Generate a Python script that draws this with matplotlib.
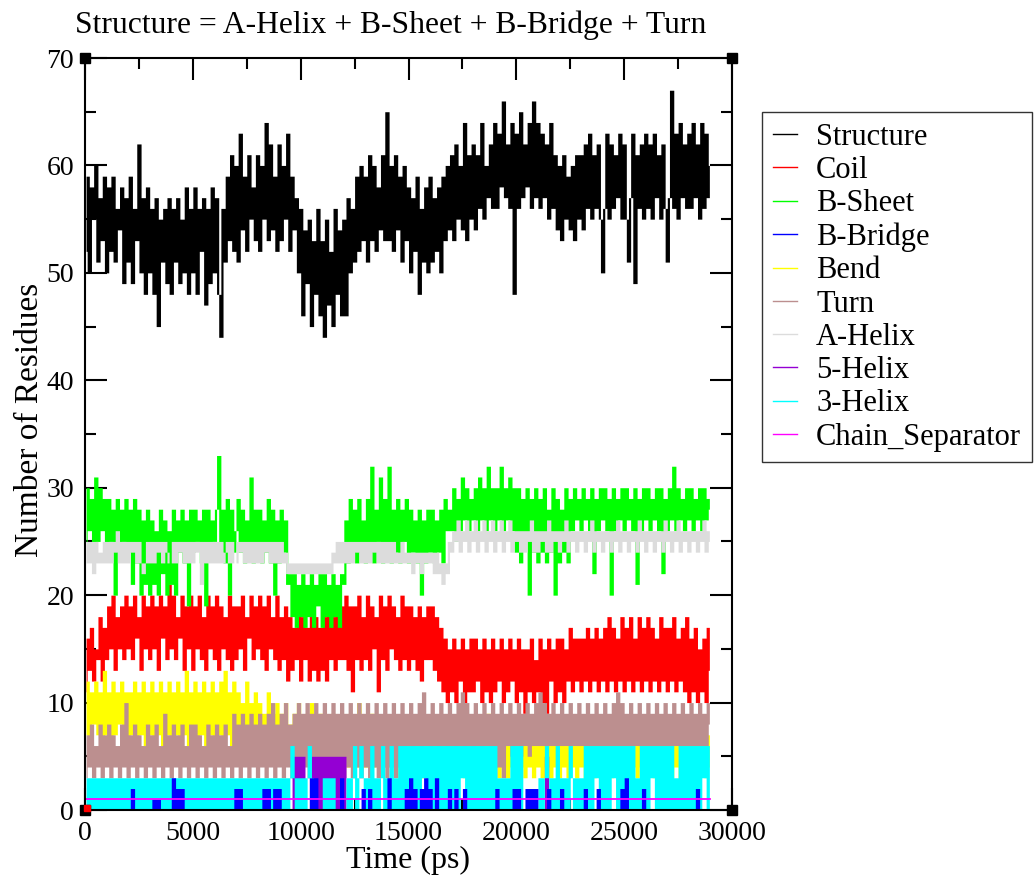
import numpy as np
import matplotlib
matplotlib.use('Agg')
import matplotlib.pyplot as plt
from matplotlib.lines import Line2D
from matplotlib.ticker import MultipleLocator
from matplotlib.transforms import offset_copy

# sample times (ps): one reading every 100 ps, 0 .. 29000
time = np.arange(0, 29001, 100)

# one row = 1000 ps
structure = [52, 59, 50, 58, 55, 60, 51, 57, 53, 59,
             50, 58, 52, 59, 51, 56, 54, 58, 49, 57,
             51, 59, 49, 56, 53, 62, 50, 57, 48, 58,
             50, 56, 48, 57, 45, 55, 51, 56, 49, 57,
             48, 56, 51, 57, 49, 55, 50, 58, 48, 56,
             50, 58, 48, 56, 52, 57, 47, 56, 49, 58,
             50, 57, 48, 44, 56, 51, 59, 53, 61, 52,
             60, 51, 63, 54, 59, 52, 61, 55, 58, 53,
             61, 52, 60, 55, 64, 53, 62, 54, 59, 52,
             62, 53, 60, 55, 63, 52, 59, 54, 57, 50,
             56, 46, 54, 49, 55, 45, 53, 48, 56, 46,
             53, 44, 55, 47, 52, 45, 56, 48, 54, 46,
             55, 46, 57, 50, 56, 51, 59, 52, 60, 53,
             59, 51, 61, 53, 60, 52, 58, 54, 61, 53,
             65, 53, 60, 52, 61, 54, 59, 51, 60, 53,
             58, 50, 57, 52, 59, 48, 56, 51, 58, 50,
             59, 51, 57, 52, 58, 50, 59, 53, 60, 54,
             61, 53, 62, 55, 60, 54, 64, 53, 61, 55,
             62, 54, 61, 56, 64, 55, 60, 57, 62, 56,
             64, 56, 63, 58, 66, 57, 62, 56, 64, 48,
             63, 56, 65, 57, 62, 58, 64, 56, 66, 57,
             64, 56, 63, 57, 62, 55, 64, 56, 61, 54,
             60, 53, 61, 55, 59, 54, 60, 53, 61, 55,
             61, 54, 62, 56, 63, 55, 61, 56, 62, 55,
             50, 56, 63, 55, 62, 56, 61, 57, 63, 55,
             62, 55, 51, 57, 63, 49, 61, 56, 62, 55,
             63, 56, 62, 55, 63, 57, 61, 55, 62, 56,
             51, 57, 67, 56, 63, 55, 64, 57, 62, 56,
             63, 56, 64, 57, 62, 55, 64, 56, 63, 57,
             60]

coil = [11, 16, 13, 17, 12, 15, 14, 18, 12, 17,
        14, 19, 15, 20, 13, 18, 15, 19, 14, 20,
        15, 19, 14, 20, 16, 18, 13, 20, 15, 19,
        14, 20, 15, 19, 13, 20, 16, 19, 14, 21,
        15, 20, 14, 18, 16, 20, 13, 19, 15, 20,
        13, 19, 15, 20, 14, 18, 13, 20, 15, 19,
        14, 20, 13, 19, 15, 18, 14, 20, 13, 19,
        14, 19, 15, 20, 13, 18, 16, 20, 14, 19,
        15, 20, 14, 19, 13, 20, 15, 18, 14, 20,
        13, 18, 14, 19, 12, 18, 13, 17, 14, 19,
        12, 18, 14, 17, 12, 19, 13, 18, 12, 17,
        13, 18, 12, 19, 14, 18, 13, 20, 14, 19,
        14, 20, 13, 19, 11, 19, 14, 20, 13, 18,
        14, 20, 13, 19, 15, 18, 11, 20, 14, 19,
        13, 20, 15, 19, 14, 18, 13, 20, 14, 19,
        13, 19, 14, 18, 13, 19, 12, 18, 14, 19,
        14, 19, 13, 18, 12, 17, 11, 16, 10, 15,
        11, 16, 10, 15, 12, 16, 10, 15, 11, 16,
        11, 16, 12, 15, 10, 16, 11, 15, 10, 16,
        11, 15, 12, 16, 10, 15, 11, 16, 12, 15,
        10, 16, 11, 15, 9, 15, 11, 16, 10, 14,
        11, 16, 10, 15, 9, 16, 12, 15, 10, 16,
        11, 16, 10, 15, 12, 17, 11, 16, 12, 16,
        11, 16, 12, 17, 11, 16, 12, 17, 11, 16,
        12, 17, 11, 18, 12, 17, 11, 16, 12, 18,
        11, 17, 12, 18, 11, 16, 12, 18, 11, 17,
        12, 18, 11, 17, 12, 16, 11, 18, 12, 17,
        11, 17, 12, 18, 11, 16, 12, 17, 11, 18,
        10, 16, 11, 17, 10, 15, 11, 16, 10, 17,
        13]

b_sheet = [25, 30, 26, 29, 24, 31, 25, 30, 26, 29,
           24, 29, 25, 28, 20, 29, 24, 28, 25, 29,
           24, 28, 21, 29, 23, 28, 20, 27, 21, 28,
           20, 27, 21, 26, 20, 28, 22, 27, 20, 26,
           21, 28, 20, 27, 24, 28, 23, 27, 19, 28,
           24, 28, 25, 27, 23, 28, 19, 28, 24, 27,
           25, 28, 33, 24, 28, 23, 29, 20, 28, 24,
           26, 29, 24, 28, 23, 27, 24, 31, 23, 28,
           24, 28, 23, 27, 24, 29, 23, 28, 20, 27,
           23, 28, 24, 27, 21, 22, 18, 22, 17, 21,
           18, 22, 17, 21, 18, 22, 17, 21, 19, 22,
           17, 22, 18, 21, 17, 22, 18, 21, 17, 22,
           21, 27, 23, 29, 24, 28, 23, 29, 24, 27,
           23, 29, 24, 32, 23, 28, 25, 31, 23, 29,
           24, 32, 23, 28, 24, 29, 23, 28, 25, 29,
           23, 28, 24, 27, 23, 28, 20, 27, 23, 28,
           24, 28, 23, 27, 24, 28, 23, 29, 26, 28,
           26, 30, 25, 29, 26, 31, 27, 30, 26, 29,
           27, 30, 26, 31, 27, 30, 26, 32, 27, 30,
           26, 30, 27, 32, 26, 30, 27, 31, 26, 30,
           24, 30, 23, 29, 25, 30, 20, 29, 24, 30,
           23, 29, 24, 30, 23, 28, 24, 30, 20, 29,
           23, 28, 24, 30, 23, 29, 26, 30, 27, 29,
           26, 30, 27, 29, 26, 30, 22, 29, 26, 30,
           27, 30, 26, 29, 20, 30, 26, 29, 27, 30,
           26, 30, 27, 29, 26, 30, 21, 29, 26, 30,
           27, 30, 26, 29, 27, 30, 26, 30, 22, 29,
           26, 30, 27, 32, 26, 30, 27, 29, 26, 30,
           27, 30, 26, 29, 27, 30, 26, 30, 27, 29,
           28]

b_bridge = [0, 0, 0, 0, 0, 0, 0, 0, 0, 0,
            0, 0, 0, 0, 0, 0, 0, 0, 0, 0,
            0, 0, 2, 0, 0, 0, 0, 0, 0, 0,
            0, 0, 1, 0, 1, 0, 0, 0, 0, 0,
            0, 3, 0, 2, 0, 2, 0, 0, 0, 0,
            0, 0, 0, 0, 0, 0, 0, 0, 0, 0,
            0, 0, 0, 0, 0, 0, 0, 0, 0, 0,
            2, 0, 2, 0, 0, 0, 0, 0, 0, 0,
            0, 0, 0, 2, 0, 2, 0, 0, 2, 0,
            2, 0, 0, 0, 0, 0, 0, 0, 0, 0,
            0, 0, 0, 0, 0, 3, 0, 3, 0, 0,
            0, 0, 0, 0, 0, 0, 0, 0, 0, 3,
            0, 0, 0, 0, 0, 0, 0, 0, 0, 2,
            0, 0, 2, 0, 0, 0, 0, 0, 0, 0,
            0, 3, 0, 0, 0, 0, 0, 0, 0, 2,
            0, 3, 0, 2, 0, 0, 2, 0, 3, 0,
            2, 0, 0, 3, 0, 0, 0, 0, 0, 2,
            0, 0, 2, 0, 0, 0, 2, 0, 0, 0,
            0, 0, 0, 0, 0, 0, 0, 0, 0, 0,
            0, 2, 0, 0, 0, 0, 0, 0, 0, 2,
            0, 2, 0, 0, 0, 2, 0, 2, 0, 2,
            0, 0, 0, 0, 0, 2, 0, 0, 0, 0,
            0, 2, 0, 0, 0, 0, 0, 0, 0, 0,
            0, 0, 2, 0, 0, 0, 0, 0, 2, 0,
            0, 0, 0, 0, 0, 0, 0, 0, 0, 2,
            0, 3, 0, 0, 0, 0, 0, 0, 0, 2,
            0, 0, 0, 0, 0, 0, 0, 0, 0, 0,
            0, 0, 0, 0, 0, 0, 0, 0, 0, 0,
            0, 0, 0, 0, 2, 0, 0, 0, 0, 0,
            0]

bend = [7, 12, 6, 11, 8, 12, 7, 11, 6, 13,
        7, 11, 6, 12, 7, 11, 8, 12, 6, 11,
        6, 11, 7, 12, 6, 11, 7, 12, 6, 11,
        7, 12, 6, 11, 7, 12, 6, 11, 7, 12,
        6, 11, 7, 12, 6, 11, 7, 13, 6, 11,
        7, 12, 6, 11, 7, 12, 6, 11, 7, 12,
        6, 11, 7, 12, 6, 13, 7, 11, 6, 12,
        6, 11, 5, 10, 6, 12, 5, 10, 6, 11,
        6, 10, 5, 9, 6, 11, 5, 9, 6, 10,
        5, 9, 6, 10, 5, 8, 6, 9, 5, 10,
        5, 8, 6, 9, 5, 10, 6, 8, 5, 9,
        5, 9, 4, 8, 5, 9, 6, 8, 4, 9,
        5, 8, 4, 9, 5, 8, 4, 10, 5, 8,
        4, 8, 5, 9, 4, 8, 5, 7, 4, 8,
        4, 7, 5, 8, 4, 7, 3, 8, 4, 7,
        4, 7, 3, 6, 4, 7, 3, 6, 4, 7,
        3, 6, 4, 7, 3, 6, 4, 7, 3, 6,
        4, 7, 3, 6, 4, 8, 3, 6, 4, 7,
        3, 6, 4, 7, 3, 6, 4, 9, 3, 6,
        4, 7, 3, 6, 4, 7, 3, 6, 4, 7,
        3, 6, 4, 7, 3, 6, 4, 7, 3, 6,
        4, 7, 3, 8, 4, 6, 3, 7, 4, 6,
        3, 7, 4, 6, 3, 7, 4, 6, 3, 7,
        4, 6, 3, 7, 4, 6, 3, 7, 4, 6,
        3, 7, 4, 6, 3, 7, 4, 6, 3, 7,
        4, 6, 3, 7, 4, 6, 3, 7, 4, 6,
        3, 7, 4, 6, 3, 9, 4, 6, 3, 7,
        4, 6, 3, 7, 4, 6, 3, 7, 4, 6,
        3, 7, 4, 6, 3, 7, 4, 6, 3, 7,
        4]

turn = [3, 7, 4, 8, 3, 6, 4, 8, 3, 7,
        4, 8, 3, 7, 4, 6, 3, 8, 4, 10,
        3, 7, 4, 8, 3, 7, 4, 6, 3, 8,
        4, 7, 3, 8, 4, 6, 3, 9, 4, 7,
        3, 8, 4, 7, 3, 8, 4, 6, 3, 8,
        4, 8, 3, 7, 4, 6, 3, 8, 4, 7,
        3, 8, 4, 7, 3, 8, 4, 6, 3, 9,
        4, 8, 3, 9, 4, 8, 3, 9, 4, 8,
        3, 9, 4, 8, 3, 9, 4, 10, 3, 8,
        4, 9, 3, 10, 4, 8, 3, 9, 4, 10,
        3, 9, 4, 10, 3, 9, 4, 10, 3, 9,
        4, 10, 3, 9, 4, 10, 3, 9, 4, 10,
        3, 9, 4, 10, 3, 9, 4, 10, 3, 9,
        4, 10, 3, 9, 4, 10, 3, 9, 4, 10,
        3, 9, 4, 10, 3, 9, 4, 10, 3, 9,
        6, 10, 5, 9, 6, 10, 5, 11, 6, 9,
        5, 10, 6, 9, 5, 10, 6, 9, 5, 10,
        6, 9, 5, 10, 6, 11, 5, 10, 6, 9,
        5, 10, 6, 9, 5, 10, 6, 9, 4, 10,
        3, 9, 4, 10, 3, 9, 6, 10, 5, 9,
        6, 10, 5, 9, 6, 10, 5, 9, 6, 10,
        6, 11, 6, 10, 6, 9, 6, 10, 6, 9,
        6, 10, 6, 9, 6, 10, 6, 9, 6, 10,
        6, 9, 6, 10, 6, 9, 6, 10, 6, 9,
        6, 10, 6, 9, 6, 10, 6, 11, 6, 10,
        6, 9, 6, 10, 6, 9, 6, 10, 6, 9,
        6, 10, 6, 9, 6, 10, 6, 9, 6, 10,
        6, 9, 6, 10, 6, 9, 6, 10, 6, 9,
        6, 10, 6, 9, 6, 10, 6, 9, 6, 10,
        8]

a_helix = [23, 25, 23, 25, 22, 25, 23, 24, 23, 25,
           23, 25, 23, 25, 24, 26, 23, 25, 23, 25,
           23, 25, 24, 25, 23, 25, 23, 22, 23, 25,
           23, 25, 23, 25, 24, 25, 23, 25, 24, 23,
           23, 25, 23, 25, 24, 25, 23, 25, 23, 25,
           23, 25, 24, 25, 21, 25, 23, 25, 23, 25,
           23, 25, 23, 25, 23, 24, 25, 23, 25, 23,
           23, 25, 24, 25, 23, 25, 23, 25, 23, 25,
           23, 25, 23, 25, 24, 25, 23, 25, 23, 25,
           23, 25, 23, 24, 22, 23, 22, 23, 22, 23,
           22, 23, 22, 23, 22, 23, 22, 23, 22, 23,
           22, 23, 22, 23, 22, 24, 23, 25, 23, 25,
           23, 25, 23, 25, 23, 25, 24, 25, 23, 25,
           23, 25, 23, 25, 24, 25, 23, 25, 23, 25,
           23, 25, 23, 25, 23, 24, 23, 25, 23, 24,
           23, 24, 22, 24, 23, 24, 22, 24, 23, 24,
           23, 24, 22, 24, 22, 23, 21, 23, 22, 25,
           24, 26, 25, 27, 24, 26, 25, 27, 24, 26,
           25, 27, 24, 26, 25, 27, 24, 26, 25, 27,
           24, 26, 25, 27, 24, 26, 25, 27, 24, 26,
           25, 26, 24, 26, 24, 26, 25, 27, 24, 26,
           24, 26, 25, 26, 24, 27, 24, 26, 25, 26,
           24, 26, 25, 27, 24, 26, 25, 26, 24, 26,
           25, 26, 24, 26, 25, 27, 24, 26, 25, 26,
           24, 26, 25, 26, 24, 26, 25, 27, 24, 26,
           25, 26, 24, 26, 25, 26, 24, 27, 25, 26,
           24, 26, 25, 26, 24, 26, 25, 26, 24, 27,
           25, 26, 24, 26, 25, 27, 24, 26, 25, 26,
           24, 26, 25, 26, 24, 26, 25, 27, 24, 26,
           25]

helix5 = [0, 0, 0, 0, 0, 0, 0, 0, 0, 0,
          0, 0, 0, 0, 0, 0, 0, 0, 0, 0,
          0, 0, 0, 0, 0, 0, 0, 0, 0, 0,
          0, 0, 0, 0, 0, 0, 0, 0, 0, 0,
          0, 0, 0, 0, 0, 0, 0, 0, 0, 0,
          0, 0, 0, 0, 0, 0, 0, 0, 0, 0,
          0, 0, 0, 0, 0, 0, 0, 0, 0, 0,
          0, 0, 0, 0, 0, 0, 0, 0, 0, 0,
          0, 0, 0, 0, 0, 0, 0, 0, 0, 0,
          0, 0, 0, 0, 0, 0, 0, 5, 0, 5,
          0, 5, 0, 0, 0, 0, 5, 0, 5, 0,
          5, 0, 5, 0, 5, 0, 5, 0, 5, 0,
          5, 0, 0, 0, 0, 0, 0, 0, 0, 0,
          0, 0, 0, 0, 0, 0, 0, 0, 0, 0,
          0, 0, 0, 0, 0, 0, 0, 0, 0, 0,
          0, 0, 0, 0, 0, 0, 0, 0, 0, 0,
          0, 0, 0, 0, 0, 0, 0, 0, 0, 0,
          0, 0, 0, 0, 0, 0, 0, 0, 0, 0,
          0, 0, 0, 0, 0, 0, 0, 0, 0, 0,
          0, 0, 0, 0, 0, 0, 0, 0, 0, 0,
          0, 0, 0, 0, 0, 0, 0, 0, 0, 0,
          0, 0, 0, 0, 5, 0, 0, 0, 0, 0,
          0, 0, 0, 0, 0, 0, 0, 0, 0, 0,
          0, 0, 0, 0, 0, 0, 0, 0, 0, 0,
          5, 0, 0, 0, 0, 0, 0, 0, 0, 0,
          0, 0, 0, 0, 0, 0, 0, 0, 0, 0,
          0, 0, 0, 0, 0, 0, 0, 0, 0, 0,
          0, 0, 0, 0, 0, 0, 0, 0, 0, 0,
          0, 0, 0, 0, 0, 0, 0, 0, 0, 0,
          0]

helix3 = [0, 3, 0, 3, 0, 3, 0, 3, 0, 3,
          0, 3, 0, 3, 0, 3, 0, 3, 0, 3,
          0, 3, 0, 3, 0, 3, 0, 3, 0, 3,
          0, 3, 0, 3, 0, 3, 0, 3, 0, 3,
          0, 3, 0, 3, 0, 3, 0, 3, 0, 3,
          0, 3, 0, 3, 0, 3, 0, 3, 0, 3,
          0, 3, 0, 3, 0, 3, 0, 3, 0, 3,
          0, 3, 0, 3, 0, 3, 0, 3, 0, 3,
          0, 3, 0, 3, 0, 3, 0, 3, 0, 3,
          0, 3, 0, 3, 0, 3, 6, 3, 0, 3,
          0, 3, 0, 3, 6, 3, 0, 0, 0, 0,
          0, 3, 0, 3, 0, 3, 0, 0, 0, 0,
          0, 0, 3, 0, 3, 6, 0, 3, 6, 3,
          0, 3, 0, 6, 0, 3, 0, 3, 6, 0,
          3, 0, 6, 0, 3, 0, 6, 0, 6, 0,
          6, 0, 6, 0, 6, 0, 6, 3, 6, 0,
          6, 0, 6, 0, 6, 0, 6, 0, 6, 0,
          6, 0, 6, 0, 6, 3, 6, 0, 6, 0,
          6, 0, 6, 0, 6, 0, 6, 0, 6, 0,
          6, 0, 3, 0, 3, 0, 3, 0, 6, 0,
          6, 0, 6, 0, 0, 0, 0, 0, 0, 0,
          0, 3, 0, 3, 6, 3, 0, 3, 0, 6,
          0, 3, 0, 3, 0, 6, 3, 0, 3, 0,
          3, 0, 6, 0, 6, 0, 6, 3, 6, 0,
          6, 0, 6, 0, 6, 3, 6, 0, 6, 0,
          6, 0, 6, 0, 6, 0, 3, 0, 6, 0,
          6, 0, 6, 3, 6, 0, 6, 0, 6, 0,
          6, 0, 6, 0, 3, 0, 6, 0, 6, 0,
          6, 0, 6, 0, 6, 0, 6, 3, 6, 0,
          6]

chain_sep = [1, 1]
chain_time = [0, 29000]

labels = ['Structure', 'Coil', 'B-Sheet', 'B-Bridge', 'Bend', 'Turn',
          'A-Helix', '5-Helix', '3-Helix', 'Chain_Separator']
series = [structure, coil, b_sheet, b_bridge, bend, turn,
          a_helix, helix5, helix3, chain_sep]
colors = ['#000000', '#ff0000', '#00ff00', '#0000ff', '#ffff00', '#bc8f8f',
          '#dcdcdc', '#9400d3', '#00ffff', '#ff00ff']
# drawing order; the bridge bars sit on top of the 3-helix band
layer = [1, 2, 3, 10, 4, 5, 6, 7, 9, 12]

plt.rcParams['font.family'] = ['Liberation Serif', 'DejaVu Serif']

fig = plt.figure(figsize=(10.36, 8.77), dpi=100)
ax = fig.add_axes([85 / 1036, 1 - 810 / 877, 647 / 1036, 752 / 877])

# the run has a frame every few ps; each 100 ps step is drawn as the band
# between consecutive readings, the way the dense trace fills up
mid = (time[:-1] + time[1:]) / 2
handles = []
for vals, lab, col, z in zip(series, labels, colors, layer):
    v = np.asarray(vals, dtype=float)
    if lab == 'Chain_Separator':
        ax.plot(chain_time, v, color=col, lw=1.3, zorder=z)
    else:
        lo = np.minimum(v[:-1], v[1:])
        hi = np.maximum(v[:-1], v[1:])
        ax.fill_between(mid, lo, hi, step='mid', color=col, lw=0, zorder=z)
    handles.append(Line2D([], [], color=col, lw=1.0, label=lab))

ax.set_xlim(0, 30000)
ax.set_ylim(0, 70)
ax.xaxis.set_major_locator(MultipleLocator(5000))
ax.xaxis.set_minor_locator(MultipleLocator(2500))
ax.yaxis.set_major_locator(MultipleLocator(10))
ax.yaxis.set_minor_locator(MultipleLocator(5))
ax.tick_params(which='both', direction='in', top=True, right=True, width=1.5,
               labelsize=20, pad=8)
ax.tick_params(which='major', length=16)
ax.tick_params(which='minor', length=8)
for sp in ax.spines.values():
    sp.set_linewidth(1.5)
    sp.set_zorder(30)

ax.set_title('Structure = A-Helix + B-Sheet + B-Bridge + Turn', fontsize=22.8,
             pad=18, x=(391 - 85) / 647)
ax.set_ylabel('Number of Residues', fontsize=24, labelpad=1, y=0.519)
ax.set_xlabel('Time (ps)', fontsize=23, labelpad=0)

# little square markers at the corners of the frame
ax.plot([0, 1, 0, 1], [0, 0, 1, 1], 's', color='black', ms=7,
        transform=ax.transAxes, clip_on=False, zorder=40)
ax.plot([0], [0], 's', color='red', ms=4,
        transform=offset_copy(ax.transAxes, fig=fig, x=2, y=2.5, units='dots'),
        clip_on=False, zorder=41)

leg = fig.legend(handles=handles, loc='upper left',
                 bbox_to_anchor=(762 / 1036, 1 - 112 / 877),
                 fontsize=22, frameon=True, fancybox=False, edgecolor='black',
                 handlelength=0.8, handletextpad=0.62, labelspacing=0.14,
                 borderpad=0.35, borderaxespad=0)
leg.get_frame().set_linewidth(1.0)

fig.savefig('out.png', dpi=100)
